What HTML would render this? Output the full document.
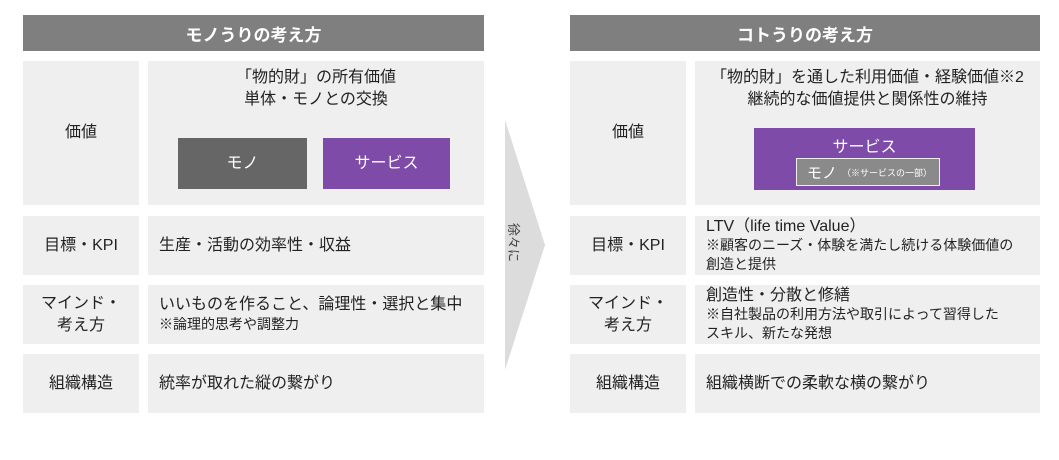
<!DOCTYPE html>
<html><head><meta charset="utf-8"><style>
body{margin:0;width:1059px;height:460px;background:#fff;position:relative;overflow:hidden;font-family:"Liberation Sans","Noto Sans CJK JP",sans-serif;color:#222}
.a{position:absolute;box-sizing:border-box}
.h{background:#7f7f7f;color:#fff;font-weight:bold;font-size:17px;display:flex;align-items:center;justify-content:center}
.c{background:#efefef;font-size:16px;display:flex;align-items:center;justify-content:center;text-align:center;line-height:22px}
.t{background:#efefef;font-size:16px;display:flex;flex-direction:column;justify-content:center;padding-left:11px;line-height:20px}
.s{font-size:14px;line-height:19px}
</style></head><body>
<div class="a h" style="left:23px;top:15px;width:461px;height:36px">モノうりの考え方</div>
<div class="a h" style="left:570px;top:15px;width:470px;height:36px">コトうりの考え方</div>

<div class="a c" style="left:23px;top:61px;width:116px;height:144px">価値</div>
<div class="a c" style="left:148px;top:61px;width:336px;height:144px;align-items:flex-start;padding-top:6px">「物的財」の所有価値<br>単体・モノとの交換</div>
<div class="a c" style="left:178px;top:138px;width:129px;height:51px;background:#666;color:#fff">モノ</div>
<div class="a c" style="left:323px;top:138px;width:127px;height:51px;background:#7e4ba9;color:#fff">サービス</div>

<div class="a c" style="left:23px;top:216px;width:116px;height:59px">目標・KPI</div>
<div class="a t" style="left:148px;top:216px;width:336px;height:59px">生産・活動の効率性・収益</div>
<div class="a c" style="left:23px;top:285px;width:116px;height:59px">マインド・<br>考え方</div>
<div class="a t" style="left:148px;top:285px;width:336px;height:59px"><div>いいものを作ること、論理性・選択と集中</div><div class="s">※論理的思考や調整力</div></div>
<div class="a c" style="left:23px;top:354px;width:116px;height:59px">組織構造</div>
<div class="a t" style="left:148px;top:354px;width:336px;height:59px">統率が取れた縦の繋がり</div>

<svg class="a" style="left:500px;top:115px" width="50" height="260"><polygon points="5,5 45,130 5,255" fill="#dcdcdc"/><text x="0" y="0" font-size="13" fill="#444" font-family="Noto Sans CJK JP,sans-serif" transform="translate(9,108) rotate(90)">徐々に</text></svg>

<div class="a c" style="left:570px;top:61px;width:116px;height:144px">価値</div>
<div class="a c" style="left:695px;top:61px;width:345px;height:144px;align-items:flex-start;padding-top:6px">「物的財」を通した利用価値・経験価値※2<br>継続的な価値提供と関係性の維持</div>
<div class="a" style="left:754px;top:128px;width:221px;height:62px;background:#7e4ba9;color:#fff;text-align:center;font-size:16px;padding-top:5px">サービス</div>
<div class="a" style="left:796px;top:158px;width:144px;height:28px;background:#8a8a8a;border:1px solid #eee;color:#fff;font-size:15px;padding-left:10px;display:flex;align-items:center;white-space:nowrap">モノ<span style="font-size:9px;margin-left:5px">（※サービスの一部）</span></div>

<div class="a c" style="left:570px;top:216px;width:116px;height:59px">目標・KPI</div>
<div class="a t" style="left:695px;top:216px;width:345px;height:59px;line-height:19px"><div>LTV（life time Value）</div><div class="s">※顧客のニーズ・体験を満たし続ける体験価値の<br>創造と提供</div></div>
<div class="a c" style="left:570px;top:285px;width:116px;height:59px">マインド・<br>考え方</div>
<div class="a t" style="left:695px;top:285px;width:345px;height:59px;line-height:19px"><div>創造性・分散と修繕</div><div class="s">※自社製品の利用方法や取引によって習得した<br>スキル、新たな発想</div></div>
<div class="a c" style="left:570px;top:354px;width:116px;height:59px">組織構造</div>
<div class="a t" style="left:695px;top:354px;width:345px;height:59px">組織横断での柔軟な横の繋がり</div>
</body></html>
